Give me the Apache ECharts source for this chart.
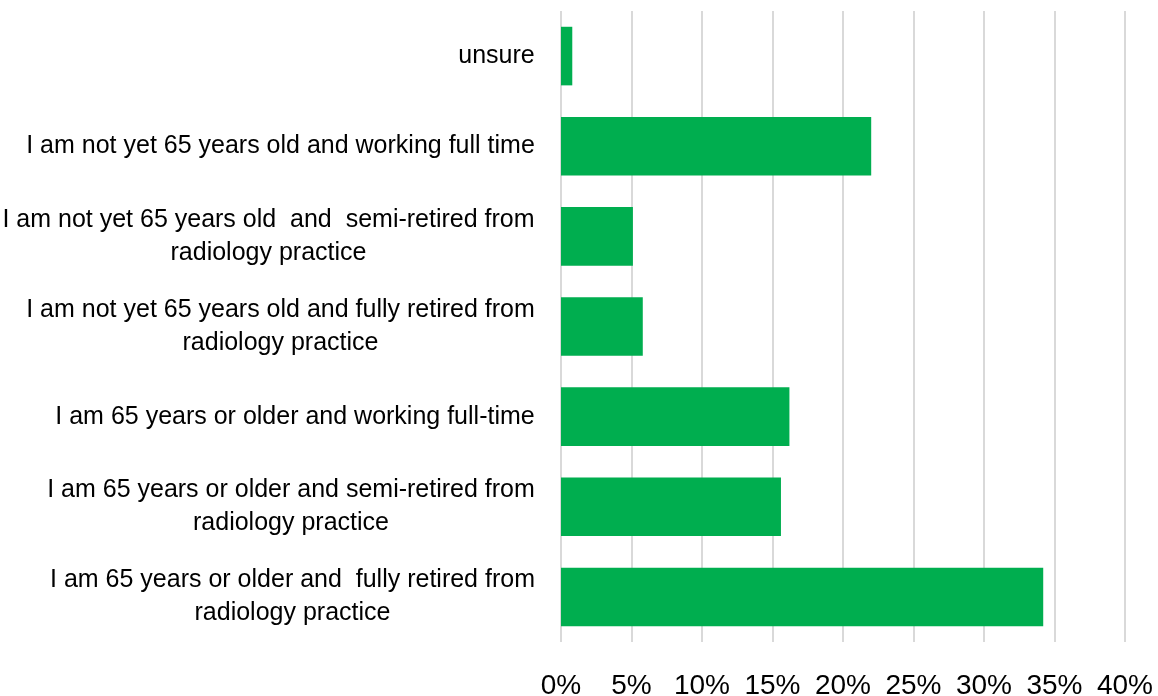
<!DOCTYPE html>
<html>
<head>
<meta charset="utf-8">
<script src="https://cdn.jsdelivr.net/npm/echarts@6/dist/echarts.min.js"></script>
<style>
  html, body { margin: 0; padding: 0; background: #fff; }
  #main { width: 1158px; height: 696px; }
</style>
</head>
<body>
<div id="main"></div>
<script>
// categories, top to bottom
var categories = [
    'unsure',
    'I am not yet 65 years old and working full time',
    'I am not yet 65 years old  and  semi-retired from\nradiology practice',
    'I am not yet 65 years old and fully retired from\nradiology practice',
    'I am 65 years or older and working full-time',
    'I am 65 years or older and semi-retired from\nradiology practice',
    'I am 65 years or older and  fully retired from\nradiology practice'
];
// percent of respondents
var values = [0.8, 22.0, 5.1, 5.8, 16.2, 15.6, 34.2];
var xTicks = [0, 5, 10, 15, 20, 25, 30, 35, 40];

var fontFam = '"Liberation Sans Narrow", "Liberation Sans", sans-serif';
var labelFont = '25px ' + fontFam;

// measure widest line so every line of a label is centred in its own block
var cv = document.createElement('canvas').getContext('2d');
cv.font = labelFont;
var rich = {};
categories.forEach(function (c, i) {
    var w = 0;
    c.split('\n').forEach(function (l) { w = Math.max(w, cv.measureText(l).width); });
    rich['r' + i] = {
        width: Math.ceil(w),
        align: 'center',
        fontSize: 25,
        lineHeight: 33,
        color: '#000',
        fontFamily: fontFam
    };
});

var myChart = echarts.init(document.getElementById('main'));
var option = {
    backgroundColor: '#fff',
    animation: false,
    grid: {
        left: 561,
        right: 33,
        top: 11,
        bottom: 54,
        containLabel: false,
        outerBoundsMode: 'none'
    },
    xAxis: {
        type: 'value',
        min: 0,
        max: 40,
        interval: 5,
        axisLine: { show: false },
        axisTick: { show: false },
        splitLine: {
            show: true,
            lineStyle: { color: '#d9d9d9', width: 2 }
        },
        axisLabel: {
            margin: 30,
            fontSize: 28,
            color: '#000',
            fontFamily: fontFam,
            formatter: function (v) { return xTicks.indexOf(v) >= 0 ? v + '%' : ''; }
        }
    },
    yAxis: {
        type: 'category',
        inverse: true,
        data: categories,
        axisLine: { show: false },
        axisTick: { show: false },
        axisLabel: {
            margin: 26,
            align: 'right',
            rich: rich,
            formatter: function (v) {
                var i = categories.indexOf(v);
                return v.split('\n').map(function (l) { return '{r' + i + '|' + l + '}'; }).join('\n');
            }
        }
    },
    series: [{
        type: 'bar',
        data: values,
        barCategoryGap: '35%',
        itemStyle: { color: '#00AE4F' }
    }]
};
myChart.setOption(option);
</script>
</body>
</html>
